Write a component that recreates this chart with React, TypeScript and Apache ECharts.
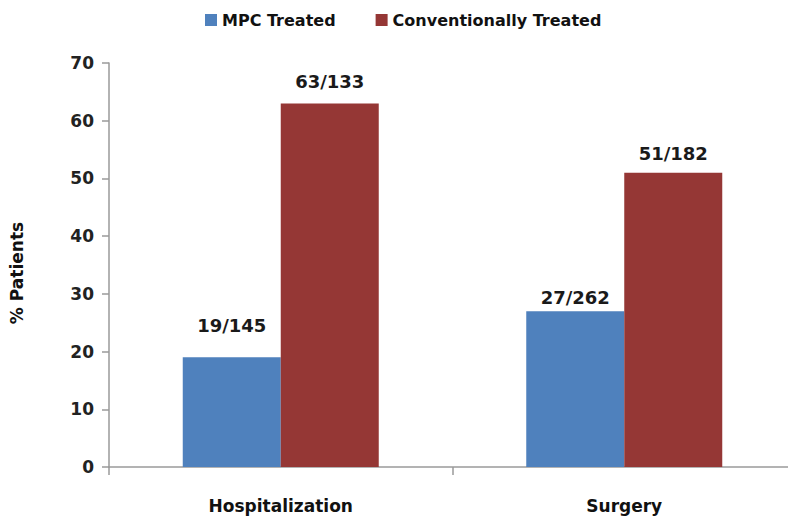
import React, { useEffect, useRef } from "react";
import * as echarts from "echarts";

const categories = ["Hospitalization", "Surgery"];
const mpcValues = [19, 27];
const mpcLabels = ["19/145", "27/262"];
const convValues = [63, 51];
const convLabels = ["63/133", "51/182"];
const yTicks = { min: 0, max: 70, interval: 10 };

const FONT = "'DejaVu Sans', Verdana, sans-serif";

export default function App() {
  const ref = useRef<HTMLDivElement>(null);
  useEffect(() => {
    if (!ref.current) return;
    const chart = echarts.init(ref.current, null, { renderer: "svg" });
    const labelStyle = {
      show: true,
      position: "top",
      fontFamily: FONT,
      fontWeight: "bold",
      fontSize: 18,
      color: "#1a1a1a",
    };
    const mpcDist = [23, 5];
    const convDist = [13, 10];
    chart.setOption({
      animation: false,
      backgroundColor: "#ffffff",
      textStyle: { fontFamily: FONT },
      legend: {
        top: 7,
        left: 200,
        itemWidth: 12,
        itemHeight: 12,
        itemGap: 40,
        icon: "rect",
        textStyle: { fontFamily: FONT, fontWeight: "bold", fontSize: 16, color: "#111" },
        data: ["MPC Treated", "Conventionally Treated"],
      },
      grid: { left: 108, right: -4, top: 63, bottom: 50, containLabel: false },
      xAxis: {
        type: "category",
        data: categories,
        axisLine: { lineStyle: { color: "#9a9a9a", width: 1.5 } },
        axisTick: { show: true, length: 8, lineStyle: { color: "#9a9a9a", width: 1.5 } },
        axisLabel: { fontFamily: FONT, fontWeight: "bold", fontSize: 17, color: "#111", margin: 30 },
      },
      yAxis: {
        type: "value",
        min: yTicks.min,
        max: yTicks.max,
        interval: yTicks.interval,
        name: "% Patients",
        nameLocation: "middle",
        nameGap: 84,
        nameRotate: 90,
        nameTextStyle: {
          fontFamily: FONT,
          fontWeight: "bold",
          fontSize: 17,
          color: "#111",
          padding: [0, 16, 0, 0],
        },
        splitLine: { show: false },
        axisLine: { show: true, lineStyle: { color: "#9a9a9a", width: 1.5 } },
        axisTick: { show: true, length: 7, lineStyle: { color: "#9a9a9a", width: 1.5 } },
        axisLabel: { fontFamily: FONT, fontWeight: "bold", fontSize: 17, color: "#222", margin: 15 },
      },
      series: [
        {
          name: "MPC Treated",
          type: "bar",
          barWidth: 98,
          barGap: "0%",
          itemStyle: { color: "#4f81bd" },
          data: mpcValues.map((v, i) => ({
            value: v,
            label: { ...labelStyle, formatter: mpcLabels[i], distance: mpcDist[i] },
          })),
        },
        {
          name: "Conventionally Treated",
          type: "bar",
          barWidth: 98,
          barGap: "0%",
          itemStyle: { color: "#953735" },
          data: convValues.map((v, i) => ({
            value: v,
            label: { ...labelStyle, formatter: convLabels[i], distance: convDist[i] },
          })),
        },
      ],
    });
    return () => chart.dispose();
  }, []);
  return (
    <div
      ref={ref}
      style={{ width: 796, height: 517, marginLeft: -8, marginTop: -8, overflow: "hidden" }}
    />
  );
}
